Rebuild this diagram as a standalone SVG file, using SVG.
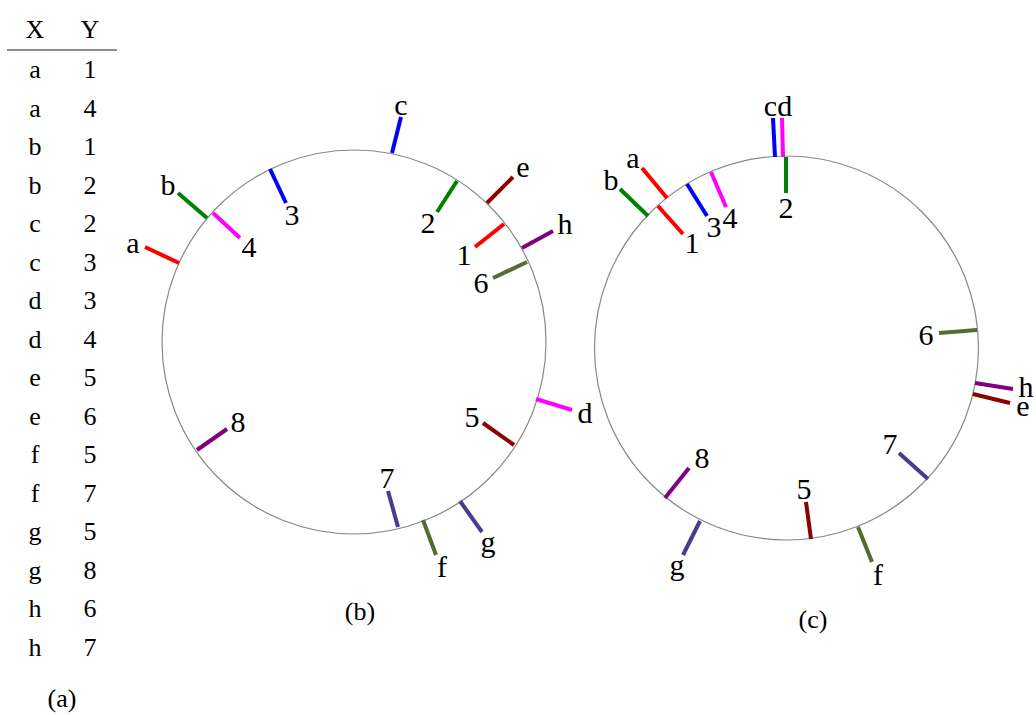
<svg xmlns="http://www.w3.org/2000/svg" width="1036" height="715" viewBox="0 0 1036 715">
<style>
text{font-family:"Liberation Serif","Times New Roman",serif;fill:#000;text-anchor:middle}
.t{font-size:26px}
.l{font-size:30px}
.cap{font-size:26px}
.ring{fill:none;stroke:#888;stroke-width:1.2}
.tk{stroke-width:4;stroke-linecap:butt}
.red{stroke:#ff0000}.grn{stroke:#008000}.blu{stroke:#0000ff}.mag{stroke:#ff00ff}
.drd{stroke:#8b0000}.pur{stroke:#800080}.olv{stroke:#556b2f}.dsb{stroke:#483d8b}
</style>
<rect width="1036" height="715" fill="#fff"/>
<g id="table">
<text class="t" x="35" y="38">X</text><text class="t" x="90" y="38">Y</text>
<line x1="7" y1="50" x2="117" y2="50" stroke="#666" stroke-width="1.5"/>
<text class="t" x="35" y="78">a</text><text class="t" x="90" y="78">1</text>
<text class="t" x="35" y="116.5">a</text><text class="t" x="90" y="116.5">4</text>
<text class="t" x="35" y="155">b</text><text class="t" x="90" y="155">1</text>
<text class="t" x="35" y="193.5">b</text><text class="t" x="90" y="193.5">2</text>
<text class="t" x="35" y="232">c</text><text class="t" x="90" y="232">2</text>
<text class="t" x="35" y="270.5">c</text><text class="t" x="90" y="270.5">3</text>
<text class="t" x="35" y="309">d</text><text class="t" x="90" y="309">3</text>
<text class="t" x="35" y="347.5">d</text><text class="t" x="90" y="347.5">4</text>
<text class="t" x="35" y="386">e</text><text class="t" x="90" y="386">5</text>
<text class="t" x="35" y="424.5">e</text><text class="t" x="90" y="424.5">6</text>
<text class="t" x="35" y="463">f</text><text class="t" x="90" y="463">5</text>
<text class="t" x="35" y="501.5">f</text><text class="t" x="90" y="501.5">7</text>
<text class="t" x="35" y="540">g</text><text class="t" x="90" y="540">5</text>
<text class="t" x="35" y="578.5">g</text><text class="t" x="90" y="578.5">8</text>
<text class="t" x="35" y="617">h</text><text class="t" x="90" y="617">6</text>
<text class="t" x="35" y="655.5">h</text><text class="t" x="90" y="655.5">7</text>
<text class="cap" x="62" y="707">(a)</text>
</g>
<g id="diagram-b">
<circle class="ring" cx="354" cy="342" r="192"/>
<g id="b-c"><line class="tk blu" x1="392" y1="153" x2="401" y2="117"/><text class="l" x="401" y="115">c</text></g>
<g id="b-2"><line class="tk grn" x1="457" y1="181" x2="437" y2="212"/><text class="l" x="428" y="233">2</text></g>
<g id="b-e"><line class="tk drd" x1="487" y1="203" x2="513" y2="177"/><text class="l" x="523" y="177">e</text></g>
<g id="b-1"><line class="tk red" x1="504" y1="224" x2="475" y2="247"/><text class="l" x="464" y="265">1</text></g>
<g id="b-h"><line class="tk pur" x1="522" y1="248" x2="553" y2="231"/><text class="l" x="565" y="234">h</text></g>
<g id="b-6"><line class="tk olv" x1="527" y1="262" x2="493" y2="278"/><text class="l" x="481" y="293">6</text></g>
<g id="b-b"><line class="tk grn" x1="207" y1="218" x2="178" y2="193"/><text class="l" x="168" y="195">b</text></g>
<g id="b-4"><line class="tk mag" x1="213" y1="213" x2="240" y2="238"/><text class="l" x="249" y="257">4</text></g>
<g id="b-a"><line class="tk red" x1="179" y1="263" x2="145" y2="247"/><text class="l" x="133" y="253">a</text></g>
<g id="b-3"><line class="tk blu" x1="270" y1="169" x2="286" y2="203"/><text class="l" x="292" y="225">3</text></g>
<g id="b-8"><line class="tk pur" x1="197" y1="450" x2="227" y2="429"/><text class="l" x="238" y="432">8</text></g>
<g id="b-7"><line class="tk dsb" x1="398" y1="527" x2="388" y2="491"/><text class="l" x="387" y="488">7</text></g>
<g id="b-f"><line class="tk olv" x1="423" y1="520" x2="436" y2="555"/><text class="l" x="442" y="577">f</text></g>
<g id="b-g"><line class="tk dsb" x1="460" y1="501" x2="482" y2="532"/><text class="l" x="488" y="552">g</text></g>
<g id="b-5"><line class="tk drd" x1="514" y1="445" x2="483" y2="423"/><text class="l" x="472" y="427">5</text></g>
<g id="b-d"><line class="tk mag" x1="536" y1="399" x2="572" y2="410"/><text class="l" x="585" y="423">d</text></g>
<text class="cap" x="360" y="620">(b)</text>
</g>
<g id="diagram-c">
<circle class="ring" cx="786.5" cy="348" r="192"/>
<g id="c-cd"><line class="tk blu" x1="775" y1="157" x2="773" y2="118"/><line class="tk mag" x1="783" y1="157" x2="782" y2="118"/><text class="l" x="778" y="116">cd</text></g>
<g id="c-2"><line class="tk grn" x1="786" y1="157" x2="786" y2="193"/><text class="l" x="786" y="218">2</text></g>
<g id="c-a"><line class="tk red" x1="667" y1="198" x2="642" y2="168"/><text class="l" x="633" y="168">a</text></g>
<g id="c-1"><line class="tk red" x1="658" y1="206" x2="683" y2="234"/><text class="l" x="692" y="253">1</text></g>
<g id="c-b"><line class="tk grn" x1="648" y1="216" x2="620" y2="189"/><text class="l" x="611" y="190">b</text></g>
<g id="c-3"><line class="tk blu" x1="687" y1="184" x2="707" y2="216"/><text class="l" x="714" y="237">3</text></g>
<g id="c-4"><line class="tk mag" x1="711" y1="172" x2="726" y2="207"/><text class="l" x="730" y="228">4</text></g>
<g id="c-6"><line class="tk olv" x1="977" y1="330" x2="939" y2="333"/><text class="l" x="926" y="345">6</text></g>
<g id="c-h"><line class="tk pur" x1="975" y1="383" x2="1013" y2="389"/><text class="l" x="1026" y="397">h</text></g>
<g id="c-e"><line class="tk drd" x1="973" y1="394" x2="1010" y2="403"/><text class="l" x="1023" y="416">e</text></g>
<g id="c-7"><line class="tk dsb" x1="928" y1="479" x2="899" y2="453"/><text class="l" x="890" y="454">7</text></g>
<g id="c-8"><line class="tk pur" x1="665" y1="498" x2="689" y2="468"/><text class="l" x="702" y="468">8</text></g>
<g id="c-g"><line class="tk dsb" x1="700" y1="521" x2="683" y2="555"/><text class="l" x="677" y="575">g</text></g>
<g id="c-5"><line class="tk drd" x1="811" y1="539" x2="806" y2="502"/><text class="l" x="804" y="499">5</text></g>
<g id="c-f"><line class="tk olv" x1="858" y1="527" x2="872" y2="562"/><text class="l" x="878" y="585">f</text></g>
<text class="cap" x="813" y="628">(c)</text>
</g>
</svg>
